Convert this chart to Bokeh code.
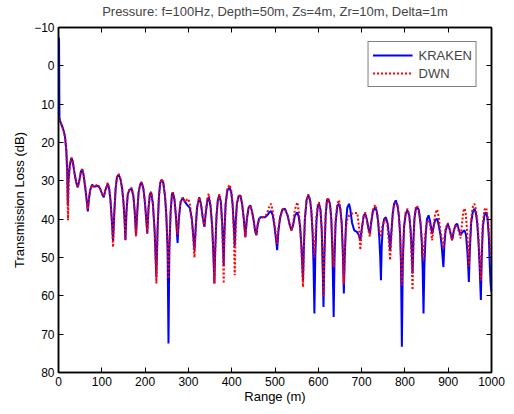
from bokeh.plotting import figure
from bokeh.models import Range1d, LinearAxis, FixedTicker, Legend, LegendItem, ColumnDataSource
from bokeh.embed import file_html
from bokeh.resources import INLINE

title_text = "Pressure: f=100Hz, Depth=50m, Zs=4m, Zr=10m, Delta=1m"
x_label = "Range (m)"
y_label = "Transmission Loss (dB)"
x_ticks = [0, 100, 200, 300, 400, 500, 600, 700, 800, 900, 1000]
y_ticks = [-10, 0, 10, 20, 30, 40, 50, 60, 70, 80]

kraken_pts = [
    (1.2, -7.3), (2.2, 13.5), (4, 14.5), (8, 15.6), (12, 17), (15, 18.5), (18, 22), (20, 27), (21.5, 36.5),
    (23, 30), (26, 26), (30, 24), (33, 25), (37, 28), (41, 30.5), (44.5, 31.7), (48, 30), (52, 27.5),
    (55, 27), (58, 28.5), (62, 32), (65, 35), (67.7, 38), (70, 35), (73, 32.5), (77.7, 31), (81, 31.5),
    (85, 31.5), (91.5, 31.3), (96, 32), (101, 33.5), (104.6, 34.3), (108, 32.5), (113.8, 30.8), (117, 32),
    (120, 35), (123, 40), (126, 45.8), (129, 38), (132, 32), (135, 29), (139, 28.4), (143, 29.5), (147, 32),
    (150, 35.5), (152.5, 40), (154.6, 45.5), (157, 38), (160, 33.5), (164, 32.3), (169, 32.1), (173, 34),
    (176, 38), (179, 44.2), (182, 38), (185, 33), (189, 30.8), (192, 30.5), (196, 32), (199, 35), (202, 39),
    (205, 43.8), (208, 37), (211, 33.5), (214, 33), (218, 36), (222, 43), (226, 55), (229, 42), (232, 34),
    (235, 30.5), (238.5, 29.7), (242, 30.5), (246, 34), (249, 39), (252, 48), (254, 72.4), (256, 48),
    (259, 38), (262, 33.5), (264, 33), (268, 35), (271, 39), (275, 46.2), (278, 40), (282, 35.5),
    (287, 34.4), (292, 35.5), (298, 36.4), (303, 37), (308, 40), (311, 44), (314, 48.1), (317, 42),
    (320, 37), (325, 34.3), (329, 36), (333, 39.5), (337, 42), (340, 38.5), (344, 35), (347, 34.3),
    (351, 36.5), (355, 42), (358, 50), (360, 56.8), (362, 48), (365, 39), (368, 35), (371.5, 33.8),
    (375, 35.5), (378, 41), (380, 47), (381.5, 52), (383, 44), (386, 36), (390, 32.5), (395, 31.8),
    (399, 33), (402, 36), (405, 42), (407, 47), (409, 41), (412, 36), (416, 34), (420, 33.8), (424, 36),
    (428, 40), (431.5, 44.7), (435, 40), (439, 37), (443, 36.4), (447, 38), (451, 40.5), (454, 43),
    (457, 44.2), (460, 41.5), (463, 40), (466, 39.5), (471, 39.5), (477, 39.5), (482, 39), (487, 38.2),
    (491, 37.9), (495, 39), (499, 42), (502, 45), (505, 48.1), (508, 43), (512, 39.5), (517, 37.5),
    (523, 37.3), (529, 39), (534, 41.5), (538, 42.9), (542, 41.5), (546, 39), (551.5, 38.2), (555, 39.5),
    (558, 42), (561, 47), (563, 52), (564.7, 56), (566.5, 48), (569, 40), (573, 35), (577, 33.8), (581, 35),
    (584, 38), (587, 44), (589, 52), (591, 64.6), (593, 50), (596, 40), (599, 36.5), (601.5, 36),
    (605, 37.5), (608, 43), (610, 52), (612, 62.9), (614, 50), (617, 39), (620, 35), (623, 34.7), (627, 36),
    (630, 40), (632.5, 48), (635.5, 65.5), (637.5, 50), (640, 41), (644, 36.5), (647.7, 36), (651, 37.5),
    (654, 41), (656.5, 48), (659, 59.4), (661, 50), (664, 41), (667, 37), (671, 36), (674, 37.5), (678, 41),
    (683, 42.9), (689, 43.3), (693, 44), (697, 45.5), (701, 42), (705, 39), (708.5, 38.6), (712, 40),
    (716, 42.5), (719, 43.8), (722, 41), (726, 38), (731.5, 36.9), (735, 38), (738, 40.5), (741, 45),
    (743, 50), (744.7, 55.9), (746.5, 47), (749, 42), (752, 40), (756, 39.5), (760, 41), (763, 44),
    (766, 48.1), (769, 43), (772, 38.5), (775, 36), (779, 35.1), (783, 36.5), (786, 39), (789, 44),
    (791, 52), (793, 73.3), (795, 52), (798, 42), (802, 38.5), (806, 37.7), (810, 39), (813, 42.5),
    (816, 49), (817.7, 54.2), (819.5, 46), (822, 40), (825, 37.5), (828, 36.9), (832, 37.5), (836, 41),
    (839, 46), (841, 53), (843, 64.6), (845, 52), (848, 44), (851, 40), (854.6, 39), (858, 40.5),
    (863, 43.8), (867, 41.5), (870, 40.2), (874.6, 39.9), (878, 41.5), (882, 44), (885, 47), (887, 50),
    (889, 52.5), (891, 47), (894, 43), (899, 41.2), (903, 42.5), (906, 44), (909, 45.5), (913, 43),
    (917, 41.5), (920.8, 41.2), (924, 42.5), (928.5, 44.2), (932, 43.5), (937.7, 42.9), (941, 44),
    (944, 48), (946, 52), (947.7, 56.4), (950, 48), (953, 41), (957, 38), (960.8, 37.3), (964, 38.5),
    (967, 41), (970, 46), (972.5, 52), (975.4, 61.1), (977.5, 50), (980, 42), (984, 38.8), (987.7, 38.2),
    (991, 40), (994, 45), (996, 52), (998, 57), (1000, 59),
]

dwn_pts = [
    (0, 13), (3, 14.5), (8, 15.6), (12, 17), (15, 18.5), (18, 22), (20, 28), (22, 40.3), (23.5, 30),
    (26, 26), (30, 24), (33, 25), (37, 28), (41, 30.5), (44.5, 31.7), (48, 30), (52, 27.5), (55, 27),
    (58, 28.5), (62, 32), (65, 35), (67.7, 37.5), (70, 35), (73, 32.5), (77.7, 31), (81, 31.5), (85, 31.3),
    (91.5, 31), (96, 32), (101, 33.5), (104.6, 34), (108, 32.5), (113.8, 30.5), (117, 32), (120, 35),
    (123, 40), (126, 47.3), (129, 38), (132, 32), (135, 29), (139, 28.2), (143, 29.5), (147, 32),
    (150, 35.5), (152.5, 40), (154.6, 45.5), (157, 38), (160, 33.5), (164, 32.3), (169, 31.8), (173, 34),
    (176, 38), (179, 44.5), (182, 38), (185, 33), (189, 30.6), (192, 30.3), (196, 32), (199, 35), (202, 39),
    (205, 43.5), (208, 37), (211, 33.5), (214, 32.8), (218, 36), (222, 43), (226, 56.8), (229, 42),
    (232, 34), (235, 30.5), (238.5, 29.5), (242, 30.5), (246, 34), (249, 39), (252, 47), (254, 55.5),
    (256, 47), (259, 38), (262, 33.5), (264, 33), (268, 35), (271, 39), (275, 44), (278, 39), (282, 35.5),
    (287, 34.4), (292, 35.5), (296, 35), (300, 34.7), (304, 36.5), (308, 40), (311, 45), (314, 50),
    (317, 42), (320, 37), (325, 34.3), (329, 36), (333, 39.5), (337, 42), (340, 38), (344, 34.5),
    (347, 33.4), (351, 36), (355, 42), (358, 50), (360, 56.8), (362, 48), (365, 39), (368, 35),
    (371.5, 33.5), (375, 35.5), (378, 42), (380, 50), (381.5, 56.8), (383, 46), (386, 36), (390, 32),
    (395, 31), (399, 32.5), (402, 36), (405, 44), (407, 54.6), (409, 44), (412, 36), (416, 34),
    (420, 33.6), (424, 36), (428, 40), (431.5, 44.7), (435, 40), (439, 37), (443, 36.4), (447, 38),
    (451, 40.5), (454, 43), (457, 44), (460, 41.5), (463, 40), (466, 39.5), (471, 39.5), (477, 39.3),
    (482, 38.5), (487, 36.5), (491, 36), (495, 38), (499, 41.5), (502, 44), (505, 46.4), (508, 42),
    (512, 39.5), (517, 37.5), (523, 37.3), (529, 39), (534, 41.5), (538, 43), (542, 41), (546, 37.5),
    (551.5, 35.6), (555, 38), (558, 42), (561, 48), (563, 53), (564.7, 57.7), (566.5, 48), (569, 40),
    (573, 35), (577, 33.5), (581, 35), (584, 38), (587, 43), (589, 47), (591, 50), (593, 45), (596, 39),
    (599, 36), (601.5, 35.6), (605, 37.5), (608, 43), (610, 51), (612, 60.3), (614, 49), (617, 39),
    (620, 35), (623, 34.5), (627, 36), (630, 40), (632.5, 46), (635.5, 52.5), (637.5, 46), (640, 40),
    (644, 36), (647.7, 35), (651, 37), (654, 41), (656.5, 48), (659, 57), (661, 49), (664, 42),
    (668, 39.5), (672, 39), (677, 38.6), (683, 38.4), (690, 38.4), (694, 42), (697, 48), (700, 44),
    (704, 39.5), (708.5, 38.2), (712, 40), (716, 43), (719, 44.5), (722, 41), (726, 37.5), (731.5, 36.3),
    (735, 37.5), (738, 40), (741, 43), (744.7, 44.7), (748, 42), (752, 40.5), (756, 40), (760, 42),
    (763, 46), (766, 50.7), (769, 44), (772, 38.5), (775, 36.3), (779, 35.7), (783, 36.5), (786, 39),
    (789, 44), (791, 50), (793, 57.2), (795, 50), (798, 42), (802, 38), (806, 37.3), (810, 39), (813, 43),
    (816, 52), (817.7, 58.5), (819.5, 48), (822, 40), (825, 37), (828, 36.5), (832, 37.5), (836, 41),
    (839, 45), (841, 48), (843, 50.7), (845, 47), (848, 43), (851, 40.5), (854.6, 40.3), (858, 41.5),
    (863, 45.5), (867, 41), (870, 38.5), (874.6, 37.5), (878, 39.5), (882, 43), (885, 45), (889, 47.6),
    (891, 45), (894, 42.5), (899, 41), (903, 42.5), (906, 44), (909, 45.5), (913, 43), (917, 41.7),
    (920.8, 41.5), (924, 43), (928.5, 45), (932, 41), (935, 38), (938, 37.2), (941, 39), (944, 44),
    (946, 48), (947.7, 52.3), (950, 46), (953, 40), (957, 36.7), (960.8, 36), (964, 37.5), (967, 40),
    (970, 45), (972.5, 50), (975.4, 56), (977.5, 48), (980, 41), (984, 37.5), (987.7, 37), (991, 39),
    (994, 43), (997, 48), (1000, 51.5),
]

kraken_range = [p[0] for p in kraken_pts]
kraken_tl = [p[1] for p in kraken_pts]
dwn_range = [p[0] for p in dwn_pts]
dwn_tl = [p[1] for p in dwn_pts]

FONT = "Liberation Sans"

p = figure(width=506, height=413, output_backend="svg", toolbar_location=None,
           x_range=Range1d(0, 1000), y_range=Range1d(80, -10),
           min_border_left=58, min_border_right=15, min_border_top=4, min_border_bottom=4,
           title=title_text)
p.styles = {"margin-top": "-7px"}
p.title.text_font = FONT
p.title.text_font_size = "13px"
p.title.text_font_style = "normal"
p.title.align = "center"
p.title.standoff = 17
p.title.offset = 0

p.xgrid.visible = False
p.ygrid.visible = False
p.outline_line_color = "black"
p.outline_line_width = 1.5

def style_axis(ax, labels=True):
    ax.axis_line_color = "black"
    ax.axis_line_width = 1.5
    ax.major_tick_in = 5
    ax.major_tick_out = 0
    ax.minor_tick_in = 5 if not labels else 0
    ax.minor_tick_out = 0
    ax.major_tick_line_color = "black"
    ax.minor_tick_line_color = "black"
    ax.major_tick_line_width = 1
    ax.minor_tick_line_width = 1
    ax.major_label_text_font = FONT
    ax.major_label_text_font_size = "12px"
    ax.major_label_text_color = "black"
    ax.major_label_standoff = 4
    ax.axis_label_text_font = FONT
    ax.axis_label_text_font_size = "13px"
    ax.axis_label_text_font_style = "normal"
    ax.axis_label_text_color = "black"

xa = p.xaxis[0]
ya = p.yaxis[0]
xa.ticker = FixedTicker(ticks=x_ticks)
ya.ticker = FixedTicker(ticks=y_ticks)
xa.axis_label = x_label
ya.axis_label = y_label
style_axis(xa)
style_axis(ya)
xa.axis_label_standoff = 0
ya.axis_label_standoff = 4

# box-style tick marks on top and right (minor ticks only, so no labels)
top_ax = LinearAxis(ticker=FixedTicker(ticks=[], minor_ticks=x_ticks))
right_ax = LinearAxis(ticker=FixedTicker(ticks=[], minor_ticks=y_ticks))
style_axis(top_ax, labels=False)
style_axis(right_ax, labels=False)
top_ax.major_label_standoff = 0
right_ax.major_label_standoff = 0
p.add_layout(top_ax, "above")
p.add_layout(right_ax, "right")

src_k = ColumnDataSource(dict(x=kraken_range, y=kraken_tl))
src_d = ColumnDataSource(dict(x=dwn_range, y=dwn_tl))
rk = p.line("x", "y", source=src_k, line_color="#0000ff", line_width=2)
rd = p.line("x", "y", source=src_d, line_color="#ff0000", line_width=2, line_dash="2 2")

legend = Legend(items=[LegendItem(label="KRAKEN", renderers=[rk]),
                       LegendItem(label="DWN", renderers=[rd])],
                location="top_right")
legend.margin = 14
legend.padding = 4
legend.spacing = 0
legend.glyph_width = 40
legend.glyph_height = 18
legend.label_height = 18
legend.label_standoff = 6
legend.label_text_font = FONT
legend.label_text_font_size = "13px"
legend.border_line_color = "black"
legend.border_line_width = 1
legend.background_fill_color = "white"
legend.background_fill_alpha = 1
p.add_layout(legend)

open("out.html", "w").write(file_html(p, INLINE))
